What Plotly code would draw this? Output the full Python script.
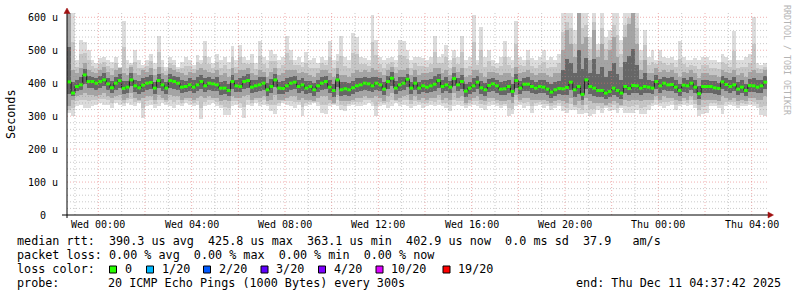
import plotly.graph_objects as go

# ---------------- data ----------------
# time axis: hours relative to Wed 00:00, one sample every 10 minutes
START_HOUR = -4 / 3          # Tue 22:40
STEP_HOUR = 1 / 6

median_us = [
    404, 370, 390, 395, 425, 405, 405, 400, 405, 410, 398, 386, 400, 408, 384, 388, 410, 392, 386, 394,
    400, 402, 385, 408, 395, 385, 408, 405, 400, 388, 390, 395, 388, 395, 405, 392, 400, 398, 395, 385,
    385, 378, 405, 392, 390, 405, 408, 388, 392, 395, 400, 380, 390, 410, 385, 384, 392, 400, 403, 390,
    395, 385, 390, 380, 392, 400, 405, 388, 378, 410, 380, 383, 380, 386, 392, 395, 400, 398, 392, 400,
    395, 382, 405, 415, 385, 395, 400, 412, 385, 400, 385, 392, 388, 392, 397, 408, 390, 395, 388, 414,
    395, 405, 376, 385, 392, 403, 386, 380, 393, 398, 392, 382, 383, 390, 375, 408, 385, 397, 397, 390,
    385, 390, 388, 382, 373, 380, 384, 383, 387, 403, 380, 390, 366, 410, 390, 385, 378, 378, 370, 375,
    385, 378, 370, 390, 384, 393, 392, 385, 390, 388, 385, 405, 392, 400, 395, 396, 388, 378, 394, 392,
    400, 388, 368, 390, 390, 390, 386, 384, 404, 396, 390, 395, 382, 388, 378, 393, 392, 388, 392, 403,
]
max_us = [
    613, 613, 470, 530, 525, 500, 470, 460, 475, 480, 470, 465, 480, 450, 588, 470, 460, 500, 470, 455,
    470, 490, 460, 542, 470, 450, 480, 470, 450, 465, 480, 470, 455, 486, 470, 527, 480, 460, 490, 470,
    480, 465, 512, 470, 517, 480, 470, 490, 460, 527, 480, 470, 500, 490, 470, 480, 542, 500, 470, 480,
    465, 495, 470, 475, 460, 480, 470, 527, 470, 490, 542, 480, 470, 552, 540, 480, 475, 470, 608, 530,
    480, 470, 476, 480, 470, 532, 527, 500, 470, 480, 480, 476, 470, 480, 542, 480, 490, 517, 470, 500,
    480, 542, 470, 480, 608, 470, 570, 480, 500, 470, 460, 480, 527, 480, 470, 588, 480, 470, 500, 476,
    470, 480, 500, 470, 480, 470, 490, 613, 613, 613, 560, 613, 613, 613, 540, 613, 520, 613, 540, 560,
    613, 613, 530, 613, 613, 613, 613, 500, 560, 480, 500, 470, 500, 480, 476, 480, 470, 527, 480, 470,
    470, 475, 470, 480, 480, 470, 470, 465, 490, 480, 470, 557, 470, 470, 480, 490, 600, 460, 455, 460,
]
upper_q_us = [
    613, 440, 430, 445, 460, 440, 435, 430, 440, 450, 435, 425, 440, 445, 430, 425, 450, 430, 425, 440,
    435, 445, 425, 450, 430, 425, 445, 440, 435, 430, 425, 435, 430, 440, 445, 440, 435, 430, 440, 425,
    430, 420, 445, 430, 440, 440, 445, 430, 425, 440, 435, 420, 435, 445, 425, 430, 440, 440, 440, 430,
    435, 430, 425, 420, 430, 440, 440, 430, 420, 445, 425, 425, 420, 430, 440, 435, 440, 435, 445, 440,
    435, 425, 440, 450, 430, 440, 440, 445, 425, 440, 425, 430, 430, 435, 445, 445, 430, 440, 425, 450,
    435, 445, 420, 425, 440, 440, 430, 420, 435, 435, 430, 425, 430, 430, 420, 450, 430, 435, 440, 430,
    425, 430, 430, 425, 420, 430, 430, 500, 560, 520, 480, 613, 520, 540, 470, 560, 480, 520, 470, 500,
    540, 480, 450, 540, 580, 613, 520, 440, 470, 430, 430, 445, 435, 440, 435, 440, 430, 420, 435, 430,
    440, 430, 415, 430, 430, 425, 425, 420, 440, 435, 430, 440, 425, 430, 420, 435, 440, 430, 430, 440,
]
lower_q_us = [
    330, 350, 360, 365, 370, 365, 365, 360, 365, 370, 360, 355, 360, 365, 350, 355, 370, 355, 350, 355,
    360, 360, 350, 365, 355, 350, 365, 360, 360, 350, 355, 355, 350, 355, 360, 355, 360, 355, 355, 345,
    350, 345, 360, 355, 355, 360, 365, 350, 355, 355, 360, 345, 350, 365, 350, 350, 355, 360, 360, 350,
    355, 350, 350, 345, 355, 360, 360, 350, 340, 365, 345, 345, 345, 350, 355, 355, 360, 355, 355, 360,
    355, 345, 360, 370, 350, 355, 360, 365, 350, 360, 350, 355, 350, 355, 355, 365, 350, 355, 350, 370,
    355, 360, 340, 350, 355, 360, 350, 345, 355, 355, 350, 345, 345, 350, 340, 365, 350, 355, 355, 350,
    350, 350, 350, 345, 340, 345, 350, 345, 340, 355, 335, 345, 335, 355, 345, 340, 340, 340, 335, 340,
    345, 340, 335, 350, 345, 350, 350, 345, 350, 350, 350, 360, 350, 360, 355, 355, 350, 345, 355, 350,
    360, 350, 335, 350, 350, 350, 350, 345, 360, 355, 350, 355, 345, 350, 345, 355, 355, 350, 350, 360,
]
min_us = [
    310, 300, 330, 335, 325, 325, 330, 335, 340, 335, 335, 325, 340, 335, 330, 340, 335, 330, 340, 294,
    330, 335, 325, 330, 340, 335, 330, 325, 335, 330, 340, 335, 330, 335, 292, 330, 335, 340, 330, 325,
    304, 304, 330, 335, 325, 294, 335, 330, 340, 330, 335, 330, 315, 305, 330, 340, 335, 330, 325, 335,
    300, 330, 335, 340, 330, 310, 305, 330, 335, 330, 320, 315, 330, 335, 330, 330, 335, 340, 330, 300,
    330, 335, 325, 330, 340, 330, 335, 330, 325, 330, 335, 325, 330, 335, 330, 335, 330, 325, 315, 330,
    335, 330, 325, 330, 335, 330, 325, 320, 330, 335, 330, 325, 330, 300, 305, 330, 335, 325, 330, 310,
    330, 335, 325, 330, 320, 325, 330, 315, 310, 320, 320, 305, 305, 310, 300, 305, 320, 310, 325, 315,
    320, 310, 325, 310, 310, 310, 320, 305, 305, 320, 330, 335, 330, 325, 330, 335, 320, 330, 335, 330,
    335, 325, 300, 305, 310, 330, 330, 325, 305, 330, 335, 330, 325, 330, 330, 335, 330, 325, 303, 300,
]

x_tick_hours = [0, 4, 8, 12, 16, 20, 24, 28]
x_tick_labels = ["Wed 00:00", "Wed 04:00", "Wed 08:00", "Wed 12:00",
                 "Wed 16:00", "Wed 20:00", "Thu 00:00", "Thu 04:00"]
y_tick_values = [0, 100, 200, 300, 400, 500, 600]
y_tick_labels = ["0\u00a0\u00a0", "100 u", "200 u", "300 u", "400 u", "500 u", "600 u"]

loss_labels = ["0", "1/20", "2/20", "3/20", "4/20", "10/20", "19/20"]
loss_colors = ["#26ff00", "#00b8ff", "#0059ff", "#5e00ff", "#7e00ff", "#dd00ff", "#ff0000"]

stats_line = "median rtt:  390.3 us avg  425.8 us max  363.1 us min  402.9 us now  0.0 ms sd  37.9   am/s"
loss_line = "packet loss: 0.00 % avg  0.00 % max  0.00 % min  0.00 % now"
probe_text = "20 ICMP Echo Pings (1000 Bytes) every 300s"
end_text = "end: Thu Dec 11 04:37:42 2025"

# ---------------- layout geometry ----------------
W, H = 797, 297
PL, PR, PT, PB = 67, 768, 13, 215
X_RANGE = [-1.342, 28.70]
Y_RANGE = [0, 613]
MONO = "DejaVu Sans Mono"
MAJOR_GRID = "rgba(225,110,110,0.55)"
MINOR_GRID = "rgba(150,150,150,0.5)"


def px(xp):
    return (xp - PL) / (PR - PL)


def py(yp):
    return (PB - yp) / (PB - PT)


def nb(s):
    return s.replace(" ", "\u00a0")


n = len(median_us)
xs = [START_HOUR + STEP_HOUR * (i + 0.5) for i in range(n)]

fig = go.Figure()

# smoke layers (outer -> inner)
bands = [
    (min_us, max_us, "#dcdcdc"),
    ([(a + b) / 2 for a, b in zip(min_us, lower_q_us)],
     [(a + b) / 2 for a, b in zip(max_us, upper_q_us)], "#c6c6c6"),
    (lower_q_us, upper_q_us, "#a4a4a4"),
    ([(a + b) / 2 for a, b in zip(lower_q_us, median_us)],
     [(a + b) / 2 for a, b in zip(upper_q_us, median_us)], "#666666"),
]
for lo, hi, col in bands:
    fig.add_trace(go.Bar(
        x=xs, y=[h - l for l, h in zip(lo, hi)], base=lo, width=STEP_HOUR,
        marker=dict(color=col, line=dict(width=0)), hoverinfo="skip", showlegend=False))

# dark connecting median line
fig.add_trace(go.Scatter(x=xs, y=median_us, mode="lines", line=dict(color="#1e1e1e", width=1, shape="hvh"),
                         hoverinfo="skip", showlegend=False))
# green median segments
gx, gy = [], []
for x, m in zip(xs, median_us):
    gx += [x - STEP_HOUR / 2, x + STEP_HOUR / 2, None]
    gy += [m, m, None]
fig.add_trace(go.Scatter(x=gx, y=gy, mode="lines", line=dict(color=loss_colors[0], width=3),
                         hoverinfo="skip", showlegend=False))

shapes = []
# grid (drawn above the data, dotted)
for h in range(-1, 29):
    col = MAJOR_GRID if h % 2 == 0 else MINOR_GRID
    shapes.append(dict(type="line", xref="x", yref="paper", x0=h, x1=h, y0=0, y1=1,
                       line=dict(color=col, width=1, dash="1px,2px"), layer="above"))
for v in range(20, 601, 20):
    col = MAJOR_GRID if v % 100 == 0 else MINOR_GRID
    shapes.append(dict(type="line", xref="paper", yref="y", x0=0, x1=1, y0=v, y1=v,
                       line=dict(color=col, width=1, dash="1px,2px"), layer="above"))
# axes
shapes.append(dict(type="line", xref="paper", yref="paper", x0=px(62), x1=px(768), y0=0, y1=0,
                   line=dict(color="black", width=1), layer="above"))
shapes.append(dict(type="line", xref="paper", yref="paper", x0=0, x1=0, y0=py(218), y1=py(11),
                   line=dict(color="black", width=1), layer="above"))
# arrow heads
shapes.append(dict(type="path", xref="paper", yref="paper", layer="above",
                   path=f"M {px(64)},{py(13.5)} L {px(70)},{py(13.5)} L {px(67)},{py(8)} Z",
                   fillcolor="#a01010", line=dict(color="#a01010", width=0.5)))
shapes.append(dict(type="path", xref="paper", yref="paper", layer="above",
                   path=f"M {px(768)},{py(212)} L {px(768)},{py(218)} L {px(773.5)},{py(215)} Z",
                   fillcolor="#a01010", line=dict(color="#a01010", width=0.5)))

ann = []
for h, t in zip(x_tick_hours, x_tick_labels):
    ann.append(dict(x=h, y=py(224.5), xref="x", yref="paper", text=nb(t), showarrow=False,
                    xanchor="center", yanchor="middle", font=dict(family=MONO, size=10, color="black")))
for v, t in zip(y_tick_values, y_tick_labels):
    ann.append(dict(x=px(60), y=v, xref="paper", yref="y", text=nb(t), showarrow=False,
                    xanchor="right", yanchor="middle", font=dict(family=MONO, size=10, color="black")))

ann.append(dict(x=px(11), y=py(114), xref="paper", yref="paper", text="Seconds", textangle=-90,
                showarrow=False, xanchor="center", yanchor="middle",
                font=dict(family=MONO, size=11.75, color="black")))
ann.append(dict(x=px(787), y=py(60), xref="paper", yref="paper", text=nb("RRDTOOL / TOBI OETIKER"),
                textangle=90, showarrow=False, xanchor="center", yanchor="middle",
                font=dict(family=MONO, size=8.3, color="#b4b4b4")))

LEG = dict(family=MONO, size=11.75, color="black")
ann.append(dict(x=px(15), y=py(241), xref="paper", yref="paper", text=nb(stats_line), showarrow=False,
                xanchor="left", yanchor="middle", font=LEG))
ann.append(dict(x=px(15), y=py(255), xref="paper", yref="paper", text=nb(loss_line), showarrow=False,
                xanchor="left", yanchor="middle", font=LEG))
ann.append(dict(x=px(15), y=py(269), xref="paper", yref="paper", text=nb("loss color:"), showarrow=False,
                xanchor="left", yanchor="middle", font=LEG))
ann.append(dict(x=px(15), y=py(283), xref="paper", yref="paper", text=nb("probe:"), showarrow=False,
                xanchor="left", yanchor="middle", font=LEG))
ann.append(dict(x=px(106), y=py(283), xref="paper", yref="paper", text=nb(probe_text), showarrow=False,
                xanchor="left", yanchor="middle", font=LEG))
ann.append(dict(x=px(783), y=py(283), xref="paper", yref="paper", text=nb(end_text), showarrow=False,
                xanchor="right", yanchor="middle", font=LEG))

box_left = [109.5, 146.5, 203.5, 261, 318.5, 376, 443]
for bx, lab, col in zip(box_left, loss_labels, loss_colors):
    shapes.append(dict(type="rect", xref="paper", yref="paper", x0=px(bx), x1=px(bx + 7),
                       y0=py(273), y1=py(266), fillcolor=col, line=dict(color="black", width=1),
                       layer="above"))
    ann.append(dict(x=px(bx + 13), y=py(269), xref="paper", yref="paper", text=nb(lab), showarrow=False,
                    xanchor="left", yanchor="middle", font=LEG))

fig.update_layout(
    width=W, height=H, autosize=False,
    margin=dict(l=PL, r=W - PR, t=PT, b=H - PB, pad=0),
    paper_bgcolor="white", plot_bgcolor="white",
    barmode="overlay", bargap=0, hovermode=False, showlegend=False,
    xaxis=dict(range=X_RANGE, showgrid=False, zeroline=False, showticklabels=False,
               showline=False, ticks="", fixedrange=True),
    yaxis=dict(range=Y_RANGE, showgrid=False, zeroline=False, showticklabels=False,
               showline=False, ticks="", fixedrange=True),
    shapes=shapes, annotations=ann,
)

fig.write_html("out.html", config={"displayModeBar": False})
